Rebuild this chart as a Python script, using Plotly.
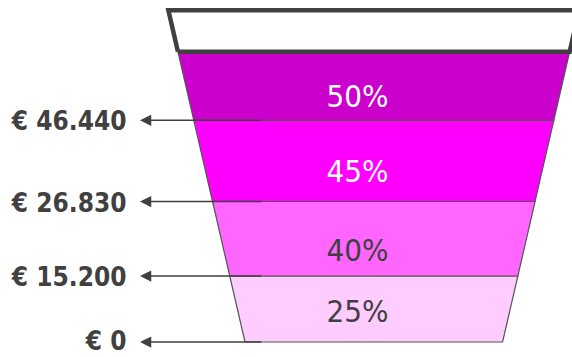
import plotly.graph_objects as go

# ---- data ----
thresholds = [0, 15200, 26830, 46440]          # income thresholds (bottom -> top)
rates = [25, 40, 45, 50]                        # tax rate of each band (bottom -> top)
band_colors = ["#FFCCFF", "#FF66FF", "#FF00FF", "#CC00CC"]
rate_text_colors = ["#404040", "#404040", "#FFFFFF", "#FFFFFF"]

# ---- layout geometry (pixel-like axis units) ----
W, H = 572, 357
edge_y = [342, 276, 201.5, 120.3, 52.5]   # band boundaries bottom -> top
label_y = [343.3, 279.5, 205, 123.8]
top_y = 10.3
rate_text_y = [314.5, 253, 174.5, 99.5]
rate_text_x = 357.5
cx, half_bottom, slope = 373.8, 128.8, 0.231
arrow_tip_x, arrow_start_x = 140, 263
label_x = 126.5

def half(y):
    return half_bottom + slope * (342 - y)

def trap(y_low, y_high):
    xs = [cx - half(y_low), cx + half(y_low), cx + half(y_high), cx - half(y_high), cx - half(y_low)]
    ys = [y_low, y_low, y_high, y_high, y_low]
    return xs, ys

fig = go.Figure()
for i, col in enumerate(band_colors):
    xs, ys = trap(edge_y[i], edge_y[i + 1])
    fig.add_trace(go.Scatter(x=xs, y=ys, mode="lines", fill="toself", fillcolor=col,
                             line=dict(color="#555555", width=1.2), hoverinfo="skip",
                             showlegend=False))

xs, ys = trap(edge_y[-1] - 0.8, top_y)
fig.add_trace(go.Scatter(x=xs, y=ys, mode="lines", fill="toself", fillcolor="#FFFFFF",
                         line=dict(color="#404040", width=4.5), hoverinfo="skip",
                         showlegend=False))

font_fam = "'DejaVu Sans Condensed', 'DejaVu Sans', sans-serif"

fig.add_trace(go.Scatter(
    x=[rate_text_x] * len(rates), y=rate_text_y, mode="text",
    text=[f"{r}%" for r in rates],
    textfont=dict(family=font_fam, size=31, color=rate_text_colors),
    textposition="middle center", hoverinfo="skip", showlegend=False))

for i, t in enumerate(thresholds):
    y = edge_y[i]
    fig.add_annotation(x=arrow_tip_x, y=y, ax=arrow_start_x, ay=y, xref="x", yref="y",
                       axref="x", ayref="y", text="", showarrow=True, arrowhead=2,
                       arrowsize=1.5, arrowwidth=1.5, arrowcolor="#404040", standoff=0)

fig.add_trace(go.Scatter(
    x=[label_x] * len(thresholds), y=label_y, mode="text",
    text=["<b>€ " + f"{t:,}".replace(",", ".") + "</b>" for t in thresholds],
    textfont=dict(family=font_fam, size=26, color="#404040"),
    textposition="middle left", hoverinfo="skip", showlegend=False))

fig.update_layout(
    width=W, height=H, margin=dict(l=0, r=0, t=0, b=0),
    paper_bgcolor="white", plot_bgcolor="white",
    xaxis=dict(range=[0, W], visible=False, fixedrange=True),
    yaxis=dict(range=[H, 0], visible=False, fixedrange=True),
)
fig.write_html("out.html")
